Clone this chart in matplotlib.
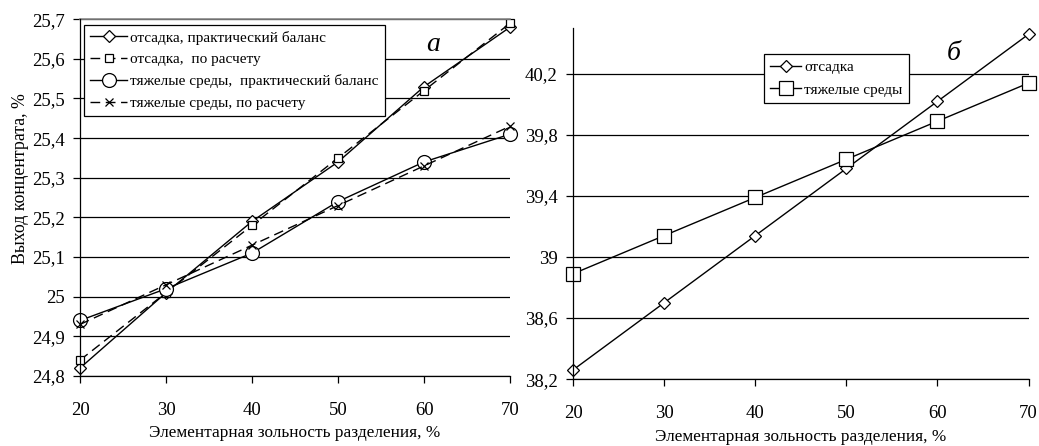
import matplotlib
matplotlib.use('Agg')
import matplotlib.pyplot as plt
from matplotlib.ticker import FuncFormatter, MultipleLocator

plt.rcParams['font.family'] = ['Liberation Serif', 'DejaVu Serif']

x = [20, 30, 40, 50, 60, 70]

# panel a
jig_prac = [24.82, 25.01, 25.19, 25.34, 25.53, 25.68]
jig_calc = [24.84, 25.01, 25.18, 25.35, 25.52, 25.69]
hm_prac = [24.94, 25.02, 25.11, 25.24, 25.34, 25.41]
hm_calc = [24.93, 25.03, 25.13, 25.23, 25.33, 25.43]
labels_a = ['отсадка, практический баланс', 'отсадка,  по расчету',
            'тяжелые среды,  практический баланс', 'тяжелые среды, по расчету']

# panel b
jig_b = [38.26, 38.70, 39.14, 39.58, 40.02, 40.46]
hm_b = [38.89, 39.14, 39.39, 39.64, 39.89, 40.14]
labels_b = ['отсадка', 'тяжелые среды']

xlabel = 'Элементарная зольность разделения, %'
ylabel = 'Выход концентрата, %'


def comma(v, pos):
    return ('%g' % round(v, 2)).replace('.', ',')


def style_axes(ax, lpad):
    ax.set_xlim(20, 70)
    ax.xaxis.set_major_locator(MultipleLocator(10))
    ax.yaxis.set_major_formatter(FuncFormatter(comma))
    ax.grid(axis='y', color='black', lw=0.9)
    ax.set_axisbelow(True)
    for s in ['right', 'top']:
        ax.spines[s].set_visible(False)
    ax.spines['left'].set_linewidth(0.9)
    ax.spines['bottom'].set_linewidth(0.9)
    ax.tick_params(direction='out', length=5, width=0.9, labelsize=13.5, pad=6)
    ax.tick_params(axis='x', pad=14)
    ax.set_xlabel(xlabel, fontsize=12.4, labelpad=lpad)


fig = plt.figure(figsize=(10.39, 4.46), dpi=100)

ax1 = fig.add_axes([0.077, 0.157, 0.414, 0.800])
mk = dict(color='black', lw=1.0, mfc='white', mec='black', mew=0.9, clip_on=False)
ax1.plot(x, jig_prac, marker='D', ms=6.5, label=labels_a[0], **mk)
ax1.plot(x, jig_calc, marker='s', ms=5.5, ls=(0, (7, 4)), label=labels_a[1], **mk)
ax1.plot(x, hm_prac, marker='o', ms=10, label=labels_a[2], **mk)
ax1.plot(x, hm_calc, marker='x', ms=6, ls=(0, (7, 4)), label=labels_a[3], **mk)
ax1.set_ylim(24.8, 25.7)
ax1.yaxis.set_major_locator(MultipleLocator(0.1))
style_axes(ax1, 4)
ax1.axhline(25.7, color='#888888', lw=1.2, clip_on=False)
ax1.set_ylabel(ylabel, fontsize=12.8)
ax1.yaxis.set_label_coords(-0.118, 0.552)
leg = ax1.legend(loc='upper left', bbox_to_anchor=(0.01, 0.985), fontsize=11,
                 frameon=True, fancybox=False, edgecolor='black', framealpha=1,
                 handlelength=2.4, handletextpad=0.2, borderpad=0.4,
                 labelspacing=0.52, borderaxespad=0)
leg.get_frame().set_linewidth(0.9)
ax1.text(0.82, 0.93, 'а', transform=ax1.transAxes, fontsize=20, style='italic',
         ha='center', va='center')

ax2 = fig.add_axes([0.5515, 0.150, 0.4385, 0.787])
ax2.plot(x, jig_b, marker='D', ms=6.5, label=labels_b[0], **mk)
ax2.plot(x, hm_b, marker='s', ms=10, label=labels_b[1], **mk)
ax2.set_ylim(38.2, 40.5)
ax2.set_yticks([38.2, 38.6, 39.0, 39.4, 39.8, 40.2])
style_axes(ax2, 4.5)
leg2 = ax2.legend(loc='upper left', bbox_to_anchor=(0.42, 0.926), fontsize=11,
                  frameon=True, fancybox=False, edgecolor='black', framealpha=1,
                  handlelength=2.0, handletextpad=0.2, borderpad=0.4,
                  labelspacing=0.6, borderaxespad=0)
leg2.get_frame().set_linewidth(0.9)
ax2.text(0.835, 0.928, 'б', transform=ax2.transAxes, fontsize=20, style='italic',
         ha='center', va='center')

fig.savefig('out.png', dpi=100)
